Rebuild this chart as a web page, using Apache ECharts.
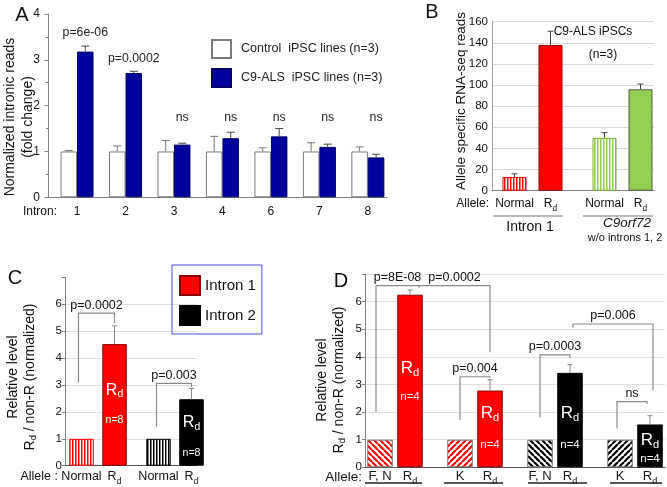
<!DOCTYPE html>
<html><head><meta charset="utf-8">
<script src="https://cdn.jsdelivr.net/npm/echarts@6.0.0/dist/echarts.min.js"></script>
<style>html,body{margin:0;padding:0;background:#fff;}#chart{width:667px;height:487px;}</style>
</head><body><div id="chart"></div>
<script>
// ---------------- DATA ----------------
// Panel A
const aIntrons = ['1', '2', '3', '4', '6', '7', '8'];
const aSeriesNames = ['Control  iPSC lines (n=3)', 'C9-ALS  iPSC lines (n=3)'];
const aControl = [1, 1, 1, 1, 1, 1, 1];
const aControlErr = [1.02, 1.12, 1.24, 1.33, 1.08, 1.19, 1.10];
const aC9 = [3.18, 2.71, 1.15, 1.29, 1.33, 1.10, 0.87];
const aC9Err = [3.30, 2.75, 1.18, 1.42, 1.50, 1.16, 0.94];
const aPvals = ['p=6e-06', 'p=0.0002', 'ns', 'ns', 'ns', 'ns', 'ns'];

// Panel B
const bAlleles = ['Normal', 'Rd', 'Normal', 'Rd'];
const bGene = ['Intron 1', 'Intron 1', 'C9orf72', 'C9orf72'];
const bReads = [13, 138, 50, 96];
const bReadsErr = [16, 151, 55, 101];

// Panel C
const cAlleles = ['Normal', 'Rd', 'Normal', 'Rd'];
const cIntron = ['Intron 1', 'Intron 1', 'Intron 2', 'Intron 2'];
const cLevel = [1, 4.52, 1, 2.47];
const cLevelErr = [null, 5.2, null, 2.87];
const cN = [null, 'n=8', null, 'n=8'];
const cTests = [[0, 1, 'p=0.0002'], [2, 3, 'p=0.003']];

// Panel D
const dAlleles = ['F, N', 'Rd', 'K', 'Rd', 'F, N', 'Rd', 'K', 'Rd'];
const dIntron = ['Intron 1', 'Intron 1', 'Intron 1', 'Intron 1', 'Intron 2', 'Intron 2', 'Intron 2', 'Intron 2'];
const dLevel = [1, 6.25, 1, 2.78, 1, 3.42, 1, 1.55];
const dLevelErr = [null, 6.42, null, 3.17, null, 3.72, null, 1.87];
const dN = [null, 'n=4', null, 'n=4', null, 'n=4', null, 'n=4'];
const dTests = [[0, 1, 'p=8E-08'], [1, 3, 'p=0.0002'], [2, 3, 'p=0.004'], [4, 5, 'p=0.0003'], [5, 7, 'p=0.006'], [6, 7, 'ns']];

// ---------------- LAYOUT (not data) ----------------
const FF = '"Liberation Sans", Arial, Helvetica, sans-serif';
const RED = '#ff0000', NAVY = '#00009c', GREEN = '#92d050', BLACK = '#000000';
const A_BW = 16.5;
const A_NS_LEVEL = 1.73;
const bSlots = [2, 6, 12, 16], bSlotCount = 18;
const cSlots = [1, 4, 8, 11], cSlotCount = 12;
const dSlots = [1, 4, 9, 12, 17, 20, 25, 28], dSlotCount = 30;
// bracket geometry: [top, left leg end, right leg end, dx left px, dx right px]
const cTestLayout = [[5.67, 3.09, 5.3, -3, 0], [3.06, 1.45, 2.93, -2, 0]];
const dTestLayout = [[6.58, 2.01, 6.5, -4, 9], [6.58, 6.58, 4.17, 9, 0], [3.28, 1.71, 3.24, 0, 0],
                     [4.07, 1.81, 3.96, 0, 0], [5.19, 5.05, 2.78, 3, 3], [2.38, 1.41, 2.29, -3, -3]];
// inner label heights [Rd, n]
const cInnerPos = {1: [2.81, 1.70], 3: [1.60, 0.48]};
const dInnerPos = {1: [3.59, 2.56], 3: [1.96, 0.81], 5: [1.96, 0.81], 7: [0.99, 0.29]};

function pattern(color, dir, period, w) {
  const s = period;
  const cv = document.createElement('canvas');
  cv.width = s; cv.height = s;
  const ctx = cv.getContext('2d');
  ctx.fillStyle = '#ffffff'; ctx.fillRect(0, 0, s, s);
  if (dir === 'v') { ctx.fillStyle = color; ctx.fillRect(0, 0, w, s); }
  else {
    ctx.strokeStyle = color; ctx.lineWidth = w;
    for (let k = -1; k <= 1; k++) {
      ctx.beginPath();
      if (dir === 'back') { ctx.moveTo(k * s, 0); ctx.lineTo(k * s + s, s); }
      else { ctx.moveTo(k * s, s); ctx.lineTo(k * s + s, 0); }
      ctx.stroke();
    }
  }
  return {image: cv, repeat: 'repeat'};
}

const slotCats = n => Array.from({length: n}, (_, i) => 's' + i);
function slotLabeler(slots, labels) {
  const m = {};
  slots.forEach((s, i) => { m['s' + s] = labels[i]; });
  return v => { const t = m[v]; if (!t) return ''; return t === 'Rd' ? '{r|R}{s|d}' : t; };
}
function axisRich(size) {
  return {
    r: {fontSize: size, lineHeight: 18, fontFamily: FF, color: '#111'},
    s: {fontSize: size * 0.7, lineHeight: 9, verticalAlign: 'bottom', fontFamily: FF, color: '#111'}
  };
}
function slotBarData(n, slots, values, include, styleFn) {
  const arr = Array(n).fill('-');
  slots.forEach((s, i) => { if (include(i)) arr[s] = {value: values[i], itemStyle: styleFn(i)}; });
  return arr;
}
function errSeries(xi, yi, data, color, capHalf, dx) {
  return {
    type: 'custom', xAxisIndex: xi, yAxisIndex: yi, z: 5, silent: true, clip: false, data: data,
    renderItem(params, api) {
      const x = api.coord([api.value(0), 0])[0] + dx;
      const y0 = api.coord([0, api.value(1)])[1];
      const y1 = api.coord([0, api.value(2)])[1];
      return {type: 'group', children: [
        {type: 'line', shape: {x1: x, y1: y0, x2: x, y2: y1}, style: {stroke: color, lineWidth: 1}},
        {type: 'line', shape: {x1: x - capHalf, y1: y1, x2: x + capHalf, y2: y1}, style: {stroke: color, lineWidth: 1}}
      ]};
    }
  };
}
function slotErrData(slots, values, errs) {
  const out = [];
  slots.forEach((s, i) => { if (errs[i] != null) out.push([s, values[i], errs[i]]); });
  return out;
}
function bracketSeries(xi, yi, tests, layout, slots) {
  return {
    type: 'custom', xAxisIndex: xi, yAxisIndex: yi, z: 6, silent: true, clip: false,
    data: tests.map((t, k) => [slots[t[0]], layout[k][0], slots[t[1]]]),
    renderItem(params, api) {
      const k = params.dataIndex, L = layout[k], t = tests[k];
      const xl = api.coord([api.value(0), 0])[0] + L[3];
      const xr = api.coord([api.value(2), 0])[0] + L[4];
      const yt = api.coord([0, api.value(1)])[1];
      const yl = api.coord([0, L[1]])[1];
      const yr = api.coord([0, L[2]])[1];
      return {type: 'group', children: [
        {type: 'polyline', shape: {points: [[xl, yl], [xl, yt], [xr, yt], [xr, yr]]}, style: {stroke: '#8a8a8a', lineWidth: 1.2, fill: null}},
        {type: 'text', style: {x: (xl + xr) / 2, y: yt - 1.5, text: t[2], align: 'center', verticalAlign: 'bottom', fill: '#111', fontSize: 12.5, fontFamily: FF}}
      ]};
    }
  };
}
function innerLabelSeries(xi, yi, slots, nArr, pos, rSize, nSize) {
  const idx = Object.keys(pos).map(Number);
  return {
    type: 'custom', xAxisIndex: xi, yAxisIndex: yi, z: 7, silent: true, clip: false,
    data: idx.map(i => [slots[i], pos[i][0], pos[i][1]]),
    renderItem(params, api) {
      const i = idx[params.dataIndex];
      const x = api.coord([api.value(0), 0])[0];
      const yR = api.coord([0, api.value(1)])[1];
      const yN = api.coord([0, api.value(2)])[1];
      return {type: 'group', children: [
        {type: 'text', style: {x: x, y: yR, text: '{r|R}{s|d}', align: 'center', verticalAlign: 'middle',
          rich: {r: {fontSize: rSize, lineHeight: rSize + 3, fill: '#fff', fontFamily: FF},
                 s: {fontSize: rSize * 0.65, lineHeight: 10, verticalAlign: 'bottom', fill: '#fff', fontFamily: FF}}}},
        {type: 'text', style: {x: x, y: yN, text: nArr[i], align: 'center', verticalAlign: 'middle', fill: '#fff', fontSize: nSize, fontFamily: FF}}
      ]};
    }
  };
}

// bar styles
const bStyle = i => {
  const col = bGene[i] === 'Intron 1' ? RED : GREEN;
  if (bAlleles[i] === 'Normal') return {color: pattern(col, 'v', 3, 1.5), borderColor: bGene[i] === 'Intron 1' ? '#e00000' : '#78b03c', borderWidth: 1};
  return {color: col, borderColor: bGene[i] === 'Intron 1' ? '#9a0000' : '#555555', borderWidth: 1};
};
const cStyle = i => {
  const col = cIntron[i] === 'Intron 1' ? RED : BLACK;
  if (cAlleles[i] === 'Normal') return {color: pattern(col, 'v', 3, 1.5), borderColor: col, borderWidth: 1};
  return {color: col, borderColor: cIntron[i] === 'Intron 1' ? '#8a0000' : '#000', borderWidth: 1};
};
const dStyle = i => {
  const col = dIntron[i] === 'Intron 1' ? RED : BLACK;
  if (dAlleles[i] === 'F, N') return {color: pattern(col, 'back', 6, 2.2), borderColor: '#777', borderWidth: 1};
  if (dAlleles[i] === 'K') return {color: pattern(col, 'fwd', 6, 2.2), borderColor: '#777', borderWidth: 1};
  return {color: col, borderColor: dIntron[i] === 'Intron 1' ? '#8a0000' : '#000', borderWidth: 1};
};

const T = (x, y, text, size, extra) => ({type: 'text', x: x, y: y, silent: true,
  style: Object.assign({text: text, fontSize: size, fontFamily: FF, fill: '#111', align: 'center', verticalAlign: 'middle'}, extra || {})});
const LN = (x1, y1, x2, y2, color, w) => ({type: 'line', silent: true, shape: {x1: x1, y1: y1, x2: x2, y2: y2}, style: {stroke: color, lineWidth: w}});
const yNameRich = {
  r: {fontSize: 14, lineHeight: 17, fontFamily: FF, fill: '#111'},
  s: {fontSize: 9.5, lineHeight: 9, verticalAlign: 'bottom', fontFamily: FF, fill: '#111'}
};

const chart = echarts.init(document.getElementById('chart'));
const option = {
  animation: false,
  backgroundColor: '#fff',
  textStyle: {fontFamily: FF},
  grid: [
    {left: 48, top: 14, width: 339, height: 183.3},
    {left: 52.8, top: 14, width: 339.3, height: 183.3},
    {left: 492, top: 21.7, width: 162, height: 169},
    {left: 65, top: 277.4, width: 132, height: 188.3},
    {left: 365, top: 274, width: 300, height: 193.3}
  ],
  xAxis: [
    {gridIndex: 0, type: 'category', data: [''], axisLine: {lineStyle: {color: '#808080'}}, axisTick: {show: false}, axisLabel: {show: false}},
    {gridIndex: 1, type: 'category', data: aIntrons, axisLine: {show: false}, axisTick: {show: false},
      axisLabel: {fontSize: 12, color: '#111', fontFamily: FF, margin: 7.7, lineHeight: 14}},
    {gridIndex: 2, type: 'category', data: slotCats(bSlotCount), axisLine: {lineStyle: {color: '#7f7f7f'}}, axisTick: {show: false},
      axisLabel: {interval: 0, fontSize: 12, color: '#111', fontFamily: FF, lineHeight: 18, margin: 4.3,
        formatter: slotLabeler(bSlots, bAlleles), rich: axisRich(12)}},
    {gridIndex: 3, type: 'category', data: slotCats(cSlotCount), axisLine: {lineStyle: {color: '#555'}}, axisTick: {show: false},
      axisLabel: {interval: 0, fontSize: 12.5, color: '#111', fontFamily: FF, lineHeight: 18, margin: 2.3,
        formatter: slotLabeler(cSlots, cAlleles), rich: axisRich(12.5)}},
    {gridIndex: 4, type: 'category', data: slotCats(dSlotCount), axisLine: {lineStyle: {color: '#555'}}, axisTick: {show: false},
      axisLabel: {interval: 0, fontSize: 13, color: '#111', fontFamily: FF, lineHeight: 18, margin: 0.5,
        formatter: slotLabeler(dSlots, dAlleles), rich: axisRich(13)}}
  ],
  yAxis: [
    {gridIndex: 0, type: 'value', min: 0, max: 4, interval: 1,
      axisLine: {show: true, lineStyle: {color: '#808080'}},
      axisTick: {show: true, length: 3.5, lineStyle: {color: '#808080'}},
      minorTick: {show: true, splitNumber: 2, length: 2, lineStyle: {color: '#808080'}},
      axisLabel: {fontSize: 12, color: '#111', fontFamily: FF, margin: 8}, splitLine: {show: false}},
    {gridIndex: 1, type: 'value', min: 0, max: 4, show: false},
    {gridIndex: 2, type: 'value', min: 0, max: 160, interval: 20,
      axisLine: {show: true, lineStyle: {color: '#a0a0a0'}}, axisTick: {show: false},
      axisLabel: {fontSize: 11.5, color: '#111', fontFamily: FF, margin: 4},
      splitLine: {lineStyle: {color: '#d9d9d9'}}},
    {gridIndex: 3, type: 'value', min: 0, max: 7, interval: 1,
      axisLine: {show: true, lineStyle: {color: '#808080'}},
      axisTick: {show: true, length: 3, lineStyle: {color: '#808080'}},
      axisLabel: {fontSize: 11.5, color: '#111', fontFamily: FF, margin: 3, formatter: v => (v === 7 ? '' : v)},
      splitLine: {show: true, showMaxLine: false, lineStyle: {color: '#e0e0e0'}}},
    {gridIndex: 4, type: 'value', min: 0, max: 7, interval: 1,
      axisLine: {show: true, lineStyle: {color: '#808080'}},
      axisTick: {show: true, length: 3, lineStyle: {color: '#808080'}},
      axisLabel: {fontSize: 11.5, color: '#111', fontFamily: FF, margin: 3, formatter: v => (v === 7 ? '' : v)},
      splitLine: {lineStyle: {color: '#e0e0e0'}}}
  ],
  legend: [
    {data: aSeriesNames, left: 211, top: 39, orient: 'vertical', padding: 0, icon: 'rect',
      itemWidth: 19, itemHeight: 18, itemGap: 9, selectedMode: false,
      textStyle: {fontSize: 12.5, color: '#222', fontFamily: FF, padding: [0, 0, 0, 5]}},
    {data: ['Intron 1', 'Intron 2'], left: 172, top: 265, orient: 'vertical', padding: [10, 6, 8, 7], icon: 'rect',
      borderColor: '#4a4ad8', borderWidth: 1, itemWidth: 20, itemHeight: 19, itemGap: 9, selectedMode: false,
      textStyle: {fontSize: 15, color: '#111', fontFamily: FF}}
  ],
  series: [
    // ---- A ----
    {name: aSeriesNames[0], type: 'bar', xAxisIndex: 1, yAxisIndex: 1, data: aControl, barWidth: A_BW, barGap: '0%', clip: false,
      itemStyle: {color: '#ffffff', borderColor: '#7a7a7a', borderWidth: 1}},
    {name: aSeriesNames[1], type: 'bar', xAxisIndex: 1, yAxisIndex: 1, data: aC9, barWidth: A_BW, barGap: '0%', clip: false,
      itemStyle: {color: NAVY, borderColor: '#000068', borderWidth: 1}},
    errSeries(1, 1, aIntrons.map((_, i) => [i, aControl[i], aControlErr[i]]), '#777', 4, -A_BW / 2),
    errSeries(1, 1, aIntrons.map((_, i) => [i, aC9[i], aC9Err[i]]), '#444', 4, A_BW / 2),
    {type: 'custom', xAxisIndex: 1, yAxisIndex: 1, z: 6, silent: true, clip: false,
      data: aIntrons.map((_, i) => [i, aC9Err[i]]),
      renderItem(params, api) {
        const t = aPvals[params.dataIndex];
        const x = api.coord([api.value(0), 0])[0] + A_BW / 2;
        const y = t === 'ns' ? api.coord([0, A_NS_LEVEL])[1] : api.coord([0, api.value(1)])[1] - 13;
        return {type: 'text', style: {x: x, y: y, text: t, align: 'center', verticalAlign: 'middle', fill: '#222', fontSize: 12.3, fontFamily: FF}};
      }},
    // ---- B ----
    {name: 'B reads', type: 'bar', xAxisIndex: 2, yAxisIndex: 2, barWidth: 24, clip: false,
      data: slotBarData(bSlotCount, bSlots, bReads, () => true, bStyle)},
    errSeries(2, 2, slotErrData(bSlots, bReads, bReadsErr), '#444', 3, 0),
    // ---- C ----
    {name: 'Intron 1', type: 'bar', xAxisIndex: 3, yAxisIndex: 3, barWidth: 24.5, barGap: '-100%', clip: false,
      itemStyle: {color: RED, borderColor: '#8a0000', borderWidth: 1},
      data: slotBarData(cSlotCount, cSlots, cLevel, i => cIntron[i] === 'Intron 1', cStyle)},
    {name: 'Intron 2', type: 'bar', xAxisIndex: 3, yAxisIndex: 3, barWidth: 24.5, barGap: '-100%', clip: false,
      itemStyle: {color: BLACK, borderColor: '#000', borderWidth: 1},
      data: slotBarData(cSlotCount, cSlots, cLevel, i => cIntron[i] === 'Intron 2', cStyle)},
    errSeries(3, 3, slotErrData(cSlots, cLevel, cLevelErr), '#888', 2.5, 0),
    bracketSeries(3, 3, cTests, cTestLayout, cSlots),
    innerLabelSeries(3, 3, cSlots, cN, cInnerPos, 16, 10.5),
    // ---- D ----
    {name: 'D Intron 1', type: 'bar', xAxisIndex: 4, yAxisIndex: 4, barWidth: 25.5, barGap: '-100%', clip: false,
      data: slotBarData(dSlotCount, dSlots, dLevel, i => dIntron[i] === 'Intron 1', dStyle)},
    {name: 'D Intron 2', type: 'bar', xAxisIndex: 4, yAxisIndex: 4, barWidth: 25.5, barGap: '-100%', clip: false,
      data: slotBarData(dSlotCount, dSlots, dLevel, i => dIntron[i] === 'Intron 2', dStyle)},
    errSeries(4, 4, slotErrData(dSlots, dLevel, dLevelErr), '#888', 2.5, 0),
    bracketSeries(4, 4, dTests, dTestLayout, dSlots),
    innerLabelSeries(4, 4, dSlots, dN, dInnerPos, 17, 11.5)
  ],
  graphic: [
    // panel letters
    T(22, 15, 'A', 20), T(432, 12, 'B', 20), T(15, 278, 'C', 20), T(341, 281, 'D', 20),
    // A
    T(23, 212, 'Intron:', 12, {align: 'left'}),
    Object.assign(T(19, 117, 'Normalized intronic reads\n(fold change)', 14, {lineHeight: 18}), {rotation: Math.PI / 2}),
    // B
    Object.assign(T(461, 101, 'Allele specific RNA-seq reads', 13.5), {rotation: Math.PI / 2}),
    T(489, 204, 'Allele:', 12, {align: 'right'}),
    T(593, 32, 'C9-ALS iPSCs', 12), T(603, 55, '(n=3)', 12),
    T(530, 227, 'Intron 1', 14), T(627, 223, 'C9orf72', 13.5, {fontStyle: 'italic'}),
    T(625, 238, 'w/o introns 1, 2', 11),
    LN(493, 216, 563, 216, '#777', 1), LN(583, 216, 653, 216, '#777', 1),
    // C
    T(58, 477, 'Allele :', 12.5, {align: 'right'}),
    Object.assign(T(21.5, 377, 'Relative level\n{r|R}{s|d} / non-R (normalized)', 14, {lineHeight: 17, rich: yNameRich}), {rotation: Math.PI / 2}),
    // D
    T(362, 477, 'Allele:', 13.5, {align: 'right'}),
    Object.assign(T(331, 380, 'Relative level\n{r|R}{s|d} / non-R (normalized)', 14, {lineHeight: 16, rich: yNameRich}), {rotation: Math.PI / 2}),
    LN(365, 483, 422, 483, '#222', 1.3), LN(444, 483, 503, 483, '#222', 1.3),
    LN(528, 483, 587, 483, '#222', 1.3), LN(610, 483, 662, 483, '#222', 1.3)
  ]
};
chart.setOption(option);
</script></body></html>
